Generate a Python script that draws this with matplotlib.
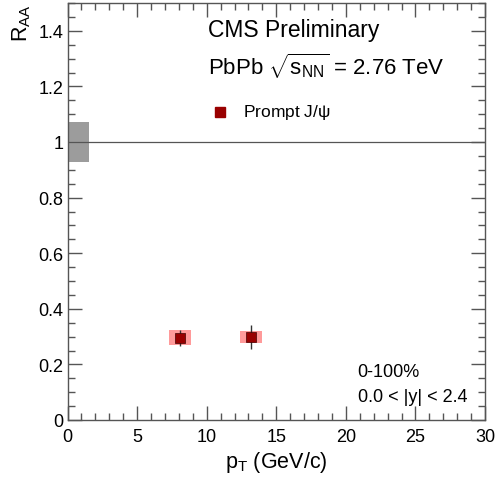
import matplotlib
matplotlib.use('Agg')
import matplotlib.pyplot as plt
from matplotlib.patches import Rectangle
from matplotlib.ticker import MultipleLocator, FuncFormatter

plt.rcParams['font.family'] = ['Liberation Sans', 'DejaVu Sans']
plt.rcParams['mathtext.fontset'] = 'custom'
plt.rcParams['mathtext.rm'] = 'Liberation Sans'
plt.rcParams['mathtext.it'] = 'Liberation Sans'

# Data
pt = [8.1, 13.2]
raa = [0.295, 0.298]
stat_err = [0.030, 0.042]
pt_halfwidth = [0.8, 0.78]
sys_err = [0.027, 0.021]
global_unc = 0.071
global_box_width = 1.55

fig = plt.figure(figsize=(4.97, 4.85), dpi=100)
ax = fig.add_axes([67.5 / 497, 1 - 421 / 485, (485 - 67.5) / 497, (421 - 4) / 485])
ax.set_xlim(0, 30)
ax.set_ylim(0, 1.5)

frame = '#555555'
for s in ax.spines.values():
    s.set_color(frame)
    s.set_linewidth(1.0)

# global uncertainty box
ax.add_patch(Rectangle((0, 1 - global_unc), global_box_width, 2 * global_unc,
                       facecolor='#9c9c9c', edgecolor='none', zorder=2))
ax.axhline(1, color='#555555', lw=0.9, zorder=3)

# systematic boxes
for x, y, hw, se in zip(pt, raa, pt_halfwidth, sys_err):
    ax.add_patch(Rectangle((x - hw, y - se), 2 * hw, 2 * se,
                           facecolor='#ff9a9a', edgecolor='none', zorder=2))

ax.errorbar(pt, raa, yerr=stat_err, fmt='none', ecolor='#333333', elinewidth=1.0, capsize=0, zorder=4)
ax.plot(pt, raa, 's', color='#990000', markeredgecolor='#440000', markeredgewidth=0.5,
        markersize=6.5, zorder=5)

# ticks
ax.xaxis.set_major_locator(MultipleLocator(5))
ax.xaxis.set_minor_locator(MultipleLocator(1))
ax.yaxis.set_major_locator(MultipleLocator(0.2))
ax.yaxis.set_minor_locator(MultipleLocator(0.05))
ax.yaxis.set_major_formatter(FuncFormatter(lambda v, p: '%g' % round(v, 2)))
ax.tick_params(which='both', direction='in', top=True, right=True, color=frame, width=1.0)
ax.tick_params(which='major', length=10, labelsize=13)
ax.tick_params(which='minor', length=5)
ax.tick_params(axis='y', pad=3)
ax.tick_params(axis='x', pad=6)

ax.set_xlabel(r'$\mathregular{p_{T}}$ (GeV/c)', fontsize=15.5, labelpad=3)
ax.set_ylabel(r'$\mathregular{R_{AA}}$', fontsize=15.5, loc='top', labelpad=4)

# texts
ax.text(10.1, 1.406, 'CMS Preliminary', fontsize=16.5, va='center', ha='left')
ax.text(10.1, 1.277, r'PbPb $\mathregular{\sqrt{s_{NN}}}$ = 2.76 TeV', fontsize=16, va='center', ha='left')
ax.plot([10.95], [1.108], 's', color='#990000', markersize=6.5)
ax.text(12.6, 1.108, r'Prompt J/$\psi$', fontsize=12.5, va='center', ha='left')
ax.text(20.85, 0.176, '0-100%', fontsize=13, va='center', ha='left')
ax.text(20.85, 0.083, '0.0 < |y| < 2.4', fontsize=13, va='center', ha='left')

fig.savefig('out.png', dpi=100)
